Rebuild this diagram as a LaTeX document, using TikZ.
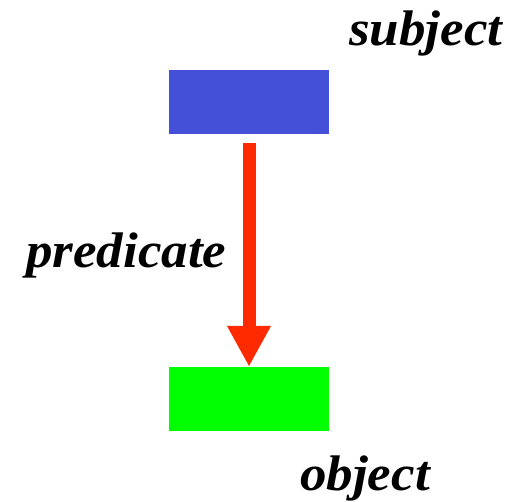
\documentclass[tikz,border=0pt]{standalone}
\usepackage{fontspec}
\newfontfamily\tripfont{Liberation Serif}[FakeStretch=1.06]
\usetikzlibrary{arrows.meta}
\definecolor{subjblue}{HTML}{4450D8}
\definecolor{objgreen}{HTML}{00FF00}
\definecolor{predred}{HTML}{FF2A00}
\tikzset{
  res/.style={minimum width=160pt,minimum height=64pt,inner sep=0pt},
  tlabel/.style={anchor=base west,inner sep=0pt,font=\tripfont\fontsize{50}{54}\selectfont\bfseries\itshape}
}
\begin{document}
\begin{tikzpicture}[x=1pt,y=-1pt]
  \useasboundingbox (0,0) rectangle (516,502);
  \node[res,fill=subjblue] (subj) at (249,102) {};
  \node[res,fill=objgreen] (obj) at (249,399) {};
  \node[tlabel] (subjlabel) at (349,46) {subject};
  \node[tlabel] (predlabel) at (26,268) {predicate};
  \node[tlabel] (objlabel) at (300,490) {object};
  % predicate arrow
  \draw[predred,line width=13pt,-{Triangle[width=41pt,length=41pt]},shorten <=9pt] (subj.south) -- (obj.north);
\end{tikzpicture}
\end{document}
